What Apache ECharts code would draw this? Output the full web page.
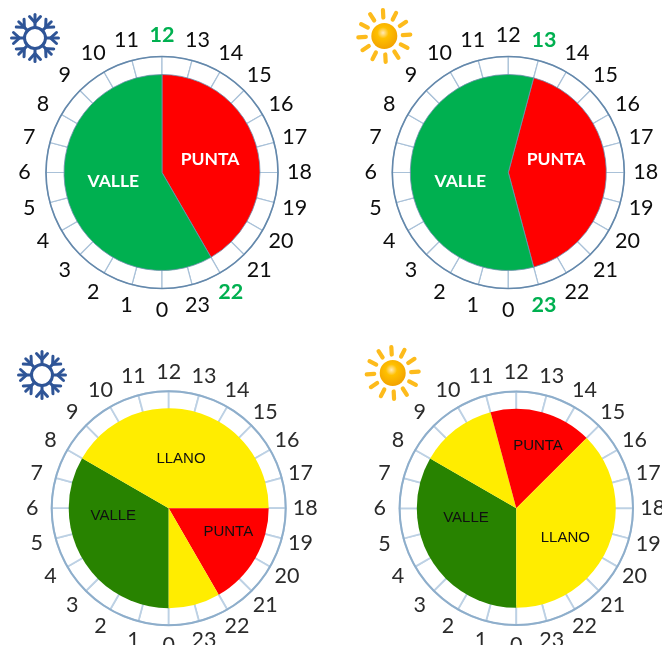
<!DOCTYPE html>
<html>
<head>
<meta charset="utf-8">
<style>html,body{margin:0;padding:0;background:#fff}#chart{width:662px;height:645px}</style>
<script src="https://cdn.jsdelivr.net/npm/echarts@6/dist/echarts.min.js"></script>
</head>
<body>
<div id="chart"></div>
<script>
// Hours of the clock face, 0 at the bottom and running clockwise
const hours = ['0','1','2','3','4','5','6','7','8','9','10','11','12','13','14','15','16','17','18','19','20','21','22','23'];

// Tariff periods: each list starts at the given hour, values are durations in hours
const winter2Names = ['PUNTA', 'VALLE'];
const winter2Hours = [10, 14];
const summer2Names = ['PUNTA', 'VALLE'];
const summer2Hours = [10, 14];
const winter3Names = ['VALLE', 'LLANO', 'PUNTA', 'LLANO'];
const winter3Hours = [8, 10, 4, 2];
const summer3Names = ['VALLE', 'LLANO', 'PUNTA', 'LLANO'];
const summer3Hours = [8, 3, 4, 9];

const GREEN_HOUR = '#00b050';
const twoPeriod = {
  colors: { PUNTA: '#ff0000', VALLE: '#00b050' },
  labelFont: { fontFamily: 'Lato', fontSize: 17.5, fontWeight: 'bold', color: '#ffffff' },
  hourColor: '#0d0d0d', hourRadius: 134.5,
  outline: '#6488ab', outlineWidth: 1.6, divider: '#a9c1d8', dividerWidth: 1.2,
  edge: '#6f8fae', edgeWidth: 0.8
};
const threePeriod = {
  colors: { PUNTA: '#ff0000', VALLE: '#288300', LLANO: '#ffed00' },
  labelFont: { fontFamily: 'Liberation Sans', fontSize: 15, color: '#101010' },
  hourColor: '#2b2b2b', hourRadius: 133.5,
  outline: '#8eaecb', outlineWidth: 2, divider: '#bdd1e4', dividerWidth: 1.8,
  edge: 'transparent', edgeWidth: 0
};

const panels = [
  { names: winter2Names, values: winter2Hours, startHour: 12, cx: 162, cy: 172.5, r: 98, ring: 116, look: twoPeriod,
    highlight: ['12', '22'], hiddenLabels: [], labelAt: [[210, 159], [113.3, 181.7]] },
  { names: summer2Names, values: summer2Hours, startHour: 13, cx: 508.3, cy: 172.5, r: 98, ring: 116, look: twoPeriod,
    highlight: ['13', '23'], hiddenLabels: [], labelAt: [[556, 159], [460.3, 181.7]] },
  { names: winter3Names, values: winter3Hours, startHour: 0, cx: 168.7, cy: 508.2, r: 100, ring: 117, look: threePeriod,
    highlight: [], hiddenLabels: [3], labelAt: [[113.3, 516.3], [181, 459], [228.3, 532.3], null] },
  { names: summer3Names, values: summer3Hours, startHour: 0, cx: 516.3, cy: 508.3, r: 99.5, ring: 116.7, look: threePeriod,
    highlight: [], hiddenLabels: [1], labelAt: [[466, 518], null, [538, 446], [565.3, 538]] }
];

// Clockwise degrees per hour; ECharts angles run counter-clockwise with 270 at the bottom
const DEG_PER_HOUR = 15;
const hourAngle = h => 270 - h * DEG_PER_HOUR;

function panelSeries(p) {
  const centre = [p.cx, p.cy];
  const common = { type: 'pie', center: centre, silent: true, animation: false, avoidLabelOverlap: false, labelLine: { show: false } };
  const oneHourSlices = hours.map(h => ({ name: h, value: 1 }));
  return [
    // Graduated ring: one slice per hour, the slice borders are the tick marks
    { ...common, radius: [p.r - 2, p.ring], startAngle: hourAngle(0), z: 1, label: { show: false },
      itemStyle: { color: '#ffffff', borderColor: p.look.divider, borderWidth: p.look.dividerWidth },
      data: oneHourSlices },
    // Outer circle of the clock
    { ...common, radius: [p.ring - p.look.outlineWidth / 2, p.ring + p.look.outlineWidth / 2], z: 2, label: { show: false },
      itemStyle: { color: p.look.outline }, data: [{ name: 'ring', value: 1 }] },
    // Tariff periods
    { ...common, radius: [0, p.r], startAngle: hourAngle(p.startHour), z: 3,
      itemStyle: { borderColor: p.look.edge, borderWidth: p.look.edgeWidth },
      labelLayout: params => {
        const at = p.labelAt[params.dataIndex];
        return at ? { x: at[0], y: at[1] } : {};
      },
      data: p.names.map((name, i) => ({
        name, value: p.values[i],
        itemStyle: { color: p.look.colors[name] },
        label: { show: !p.hiddenLabels.includes(i), position: 'inside', formatter: '{b}', ...p.look.labelFont }
      })) },
    // Hour numbers around the clock, centred on each tick
    { ...common, radius: [p.look.hourRadius - 15, p.look.hourRadius + 15], startAngle: hourAngle(0) + DEG_PER_HOUR / 2, z: 4,
      itemStyle: { color: 'transparent' },
      data: hours.map(h => {
        const on = p.highlight.includes(h);
        return {
          name: h, value: 1,
          label: { show: true, position: 'inside', formatter: '{b}', fontFamily: 'Lato', fontSize: 21.5,
            fontWeight: on ? 'bold' : 'normal', color: on ? GREEN_HOUR : p.look.hourColor }
        };
      }) }
  ];
}

// Snowflake drawn as a ring with eight chevroned arms
function snowflake(x, y) {
  const color = '#2f5597', children = [];
  const stroke = { stroke: color, lineWidth: 3, lineCap: 'round', fill: null };
  children.push({ type: 'circle', shape: { r: 10.5 }, style: { ...stroke, lineWidth: 3 } });
  for (let k = 0; k < 8; k++) {
    const straight = k % 2 === 0;
    const rot = k * Math.PI / 4;
    const len = straight ? 23.5 : 23;
    children.push({
      type: 'group', rotation: rot,
      children: [
        { type: 'line', shape: { x1: 10.5, y1: 0, x2: len, y2: 0 }, style: stroke },
        { type: 'polyline', shape: { points: [[len - 2, -5.5], [len - 8, 0], [len - 2, 5.5]] }, style: stroke }
      ]
    });
  }
  return { type: 'group', x, y, silent: true, children };
}

// Sun: shaded disc with twelve rounded rays
function sun(x, y) {
  const children = [];
  for (let k = 0; k < 12; k++) {
    children.push({
      type: 'line', rotation: (k * 30 + 3) * Math.PI / 180,
      shape: { x1: 18.5, y1: 0, x2: 26, y2: 0 },
      style: { stroke: '#fdbb1c', lineWidth: 4.2, lineCap: 'round' }
    });
  }
  children.push({
    type: 'circle', shape: { r: 13 },
    style: { fill: { type: 'radial', x: 0.45, y: 0.38, r: 0.62,
      colorStops: [{ offset: 0, color: '#ffe9b8' }, { offset: 0.35, color: '#ffc000' }, { offset: 1, color: '#f2a200' }] } }
  });
  return { type: 'group', x, y, silent: true, children };
}

const chart = echarts.init(document.getElementById('chart'), null, { renderer: 'canvas' });
chart.setOption({
  backgroundColor: '#ffffff',
  animation: false,
  series: panels.flatMap(panelSeries),
  graphic: [snowflake(35, 38), sun(384.3, 36), snowflake(42, 375), sun(392.7, 373)]
});
</script>
</body>
</html>
